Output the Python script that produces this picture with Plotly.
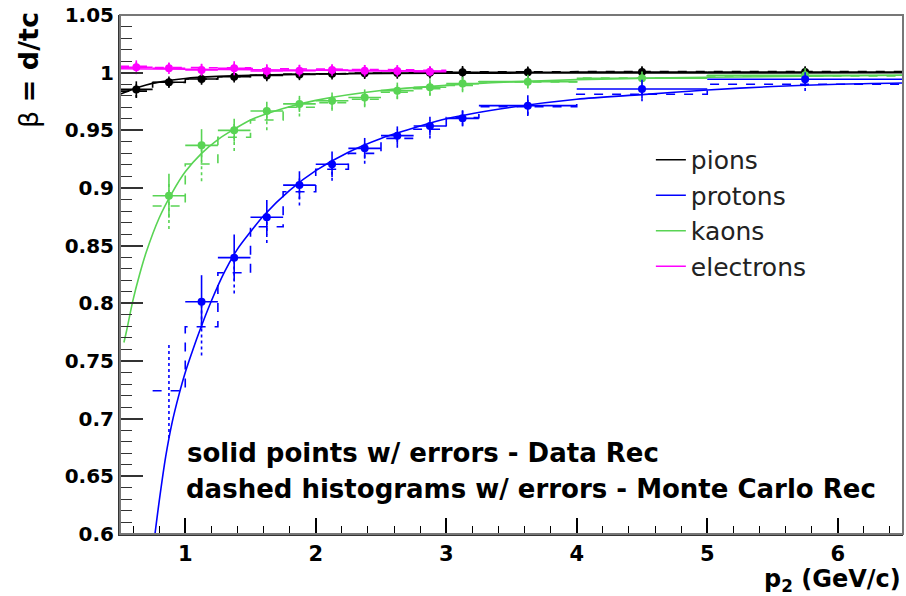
import plotly.graph_objects as go

# ---------------- data ----------------
bin_edges = [0.5, 0.75, 1.0, 1.25, 1.5, 1.75, 2.0, 2.25, 2.5, 2.75, 3.0, 3.25, 4.0, 5.0, 6.5]

# pions (all 14 bins)
pion_first_bin = 0
pion_data = [0.9855, 0.9917, 0.9945, 0.9965, 0.9976, 0.9985, 0.9991, 0.9995, 0.9997, 0.9999, 1.0003, 1.0004, 1.0005, 1.0006]
pion_data_err = [0.007, 0.005, 0.005, 0.005, 0.005, 0.005, 0.005, 0.005, 0.005, 0.005, 0.0055, 0.005, 0.005, 0.005]
pion_mc = [0.9840, 0.9915, 0.9945, 0.9965, 0.9977, 0.9986, 0.9992, 0.9996, 0.9998, 1.0000, 1.0008, 1.0010, 1.0010, 1.0010]
pion_mc_err = [0.006, 0.004, 0.004, 0.004, 0.004, 0.004, 0.004, 0.004, 0.004, 0.004, 0.004, 0.004, 0.004, 0.004]
pion_fit_p = [0.5, 0.6, 0.7, 0.8, 1.0, 1.25, 1.5, 2.0, 3.0, 4.0, 6.5]
pion_fit_beta = [0.9813, 0.9857, 0.9893, 0.9918, 0.9950, 0.9968, 0.9978, 0.9988, 0.9995, 0.9997, 0.9999]

# electrons (first 10 bins)
elec_first_bin = 0
elec_data = [1.0047, 1.0038, 1.0023, 1.0038, 1.0015, 1.0017, 1.0023, 1.0017, 1.0015, 1.0009]
elec_data_err = [0.006, 0.005, 0.005, 0.006, 0.005, 0.005, 0.005, 0.005, 0.005, 0.004]
elec_mc = [1.0055, 1.0045, 1.0040, 1.0042, 1.0035, 1.0030, 1.0030, 1.0028, 1.0025, 1.0020]
elec_mc_err = [0.004, 0.004, 0.004, 0.004, 0.004, 0.004, 0.004, 0.004, 0.004, 0.004]
elec_fit_p = [0.5, 3.0]
elec_fit_beta = [1.0034, 1.0013]

# kaons (bins from 0.75)
kaon_first_bin = 1
kaon_data = [0.8933, 0.9370, 0.9500, 0.9668, 0.9729, 0.9757, 0.9785, 0.9844, 0.9873, 0.9905, 0.9922, 0.9951, 0.9978]
kaon_data_err = [0.019, 0.014, 0.010, 0.008, 0.007, 0.007, 0.007, 0.007, 0.007, 0.006, 0.006, 0.006, 0.006]
kaon_mc = [0.8844, 0.9208, 0.9440, 0.9590, 0.9700, 0.9740, 0.9770, 0.9830, 0.9860, 0.9890, 0.9920, 0.9953, 0.9972]
kaon_mc_err = [0.020, 0.015, 0.012, 0.009, 0.008, 0.007, 0.007, 0.006, 0.006, 0.006, 0.005, 0.005, 0.005]
kaon_fit_p = [0.53, 0.55, 0.6, 0.65, 0.7, 0.8, 0.9, 1.0, 1.125, 1.25, 1.375, 1.5, 1.75, 2.0, 2.5, 3.0, 3.5, 4.0, 5.0, 6.5]
kaon_fit_beta = [0.766, 0.776, 0.803, 0.825, 0.844, 0.874, 0.896, 0.914, 0.930, 0.942, 0.951, 0.959, 0.969, 0.976, 0.9845, 0.989, 0.992, 0.994, 0.996, 0.9977]

# protons (data from 1.0, MC from 0.75)
prot_first_bin = 2
prot_data = [0.8014, 0.8396, 0.8746, 0.9025, 0.9206, 0.9344, 0.9454, 0.9538, 0.9604, 0.9714, 0.9859, 0.9943]
prot_data_err = [0.023, 0.020, 0.015, 0.012, 0.011, 0.009, 0.008, 0.008, 0.007, 0.009, 0.008, 0.006]
prot_mc_first_bin = 1
prot_mc = [0.7242, 0.7797, 0.8265, 0.8664, 0.8968, 0.9162, 0.9300, 0.9430, 0.9510, 0.9610, 0.9705, 0.9813, 0.9900]
prot_mc_err = [0.041, 0.025, 0.018, 0.014, 0.012, 0.010, 0.009, 0.008, 0.008, 0.007, 0.007, 0.006, 0.006]
prot_fit_p = [0.768, 0.8, 0.85, 0.9, 0.95, 1.0, 1.05, 1.1, 1.2, 1.3, 1.4, 1.5, 1.6, 1.8, 2.0, 2.25, 2.5, 2.75, 3.0, 3.5, 4.0, 4.5, 5.0, 5.5, 6.0, 6.5]
prot_fit_beta = [0.600, 0.628, 0.667, 0.697, 0.720, 0.740, 0.757, 0.773, 0.802, 0.827, 0.847, 0.862, 0.876, 0.898, 0.915, 0.931, 0.943, 0.952, 0.960, 0.970, 0.977, 0.981, 0.985, 0.988, 0.990, 0.991]

legend_names = ["pions", "protons", "kaons", "electrons"]
y_tick_vals = [0.6, 0.65, 0.7, 0.75, 0.8, 0.85, 0.9, 0.95, 1.0, 1.05]
y_tick_text = ["0.6", "0.65", "0.7", "0.75", "0.8", "0.85", "0.9", "0.95", "1", "1.05"]
x_tick_vals = [1, 2, 3, 4, 5, 6]

# ---------------- styling ----------------
COL = {"pions": "#000000", "protons": "#0000ff", "kaons": "#59d454", "electrons": "#ff00ff"}
FONT = "DejaVu Sans"

fig = go.Figure()


def bins_for(first, n):
    lo = bin_edges[first:first + n]
    hi = bin_edges[first + 1:first + n + 1]
    c = [(a + b) / 2 for a, b in zip(lo, hi)]
    hw = [(b - a) / 2 for a, b in zip(lo, hi)]
    return lo, hi, c, hw


def add_mc(first, vals, errs, color):
    lo, hi, c, hw = bins_for(first, len(vals))
    xs, ys = [], []
    for a, b, v in zip(lo, hi, vals):
        xs += [a, b]
        ys += [v, v]
    fig.add_trace(go.Scatter(x=xs, y=ys, mode="lines", showlegend=False, hoverinfo="skip",
                             line=dict(color=color, width=1.6, dash="dash")))
    ex, ey = [], []
    for cc, v, e in zip(c, vals, errs):
        ex += [cc, cc, None]
        ey += [v - e, v + e, None]
    fig.add_trace(go.Scatter(x=ex, y=ey, mode="lines", showlegend=False, hoverinfo="skip",
                             line=dict(color=color, width=1.6, dash="dot")))


def add_data(first, vals, errs, color):
    lo, hi, c, hw = bins_for(first, len(vals))
    fig.add_trace(go.Scatter(
        x=c, y=vals, mode="markers", showlegend=False,
        marker=dict(color=color, size=8, symbol="circle"),
        error_x=dict(type="data", array=hw, visible=True, color=color, thickness=1.6, width=0),
        error_y=dict(type="data", array=errs, visible=True, color=color, thickness=1.6, width=0),
    ))


def add_fit(p, b, color, name):
    fig.add_trace(go.Scatter(x=p, y=b, mode="lines", name=name, legendgroup=name,
                             line=dict(color=color, width=1.6, shape="spline", smoothing=0.8)))


add_mc(pion_first_bin, pion_mc, pion_mc_err, COL["pions"])
add_mc(kaon_first_bin, kaon_mc, kaon_mc_err, COL["kaons"])
add_mc(prot_mc_first_bin, prot_mc, prot_mc_err, COL["protons"])
add_mc(elec_first_bin, elec_mc, elec_mc_err, COL["electrons"])

add_fit(pion_fit_p, pion_fit_beta, COL["pions"], legend_names[0])
add_fit(prot_fit_p, prot_fit_beta, COL["protons"], legend_names[1])
add_fit(kaon_fit_p, kaon_fit_beta, COL["kaons"], legend_names[2])
add_fit(elec_fit_p, elec_fit_beta, COL["electrons"], legend_names[3])

add_data(pion_first_bin, pion_data, pion_data_err, COL["pions"])
add_data(kaon_first_bin, kaon_data, kaon_data_err, COL["kaons"])
add_data(prot_first_bin, prot_data, prot_data_err, COL["protons"])
add_data(elec_first_bin, elec_data, elec_data_err, COL["electrons"])

fig.update_layout(
    width=906, height=596,
    margin=dict(l=120, r=3, t=15, b=62),
    paper_bgcolor="white", plot_bgcolor="white",
    font=dict(family=FONT, color="black"),
    showlegend=True,
    legend=dict(x=0.678, y=0.765, xanchor="left", yanchor="top",
                bgcolor="rgba(0,0,0,0)", borderwidth=0,
                font=dict(family=FONT, size=25, color="#222"),
                traceorder="grouped", tracegroupgap=0, itemwidth=30),
    xaxis=dict(range=[0.5, 6.5], tickvals=x_tick_vals, ticks="inside", ticklen=16, tickwidth=1.5,
               tickcolor="black", showgrid=False, zeroline=False,
               showline=True, linecolor="#333", linewidth=2,
               tickfont=dict(family=FONT, size=21, weight="bold"),
               minor=dict(dtick=0.2, tick0=0, ticks="inside", ticklen=8, tickwidth=1.2,
                          tickcolor="black", showgrid=False)),
    yaxis=dict(range=[0.6, 1.05], tickvals=y_tick_vals, ticktext=y_tick_text, ticks="inside",
               ticklen=23, tickwidth=1.5, tickcolor="#333", showgrid=False, zeroline=False,
               showline=True, linecolor="#333", linewidth=2,
               tickfont=dict(family=FONT, size=20, weight="bold"),
               minor=dict(dtick=0.01, tick0=0, ticks="inside", ticklen=12, tickwidth=1.2,
                          tickcolor="#333", showgrid=False)),
    shapes=[dict(type="rect", xref="paper", yref="paper", x0=0, x1=1, y0=0, y1=1,
                 line=dict(color="#777", width=2), layer="above")],
    annotations=[
        dict(text="β <b>= d/tc</b>", xref="paper", yref="paper", x=0, y=1, xshift=-92, yshift=-55,
             xanchor="center", yanchor="middle", textangle=-90, showarrow=False,
             font=dict(family=FONT, size=27, color="black")),
        dict(text="<b>p<sub>2</sub> (GeV/c)</b>", xref="paper", yref="paper", x=1, y=0, yshift=-29,
             xanchor="right", yanchor="top", showarrow=False,
             font=dict(family=FONT, size=24, color="black")),
        dict(text="<b>solid points w/ errors - Data Rec</b>", xref="x", yref="y", x=1.0, y=0.670,
             xanchor="left", yanchor="middle", showarrow=False,
             font=dict(family=FONT, size=26, color="black")),
        dict(text="<b>dashed histograms w/ errors - Monte Carlo Rec</b>", xref="x", yref="y", x=0.99, y=0.639,
             xanchor="left", yanchor="middle", showarrow=False,
             font=dict(family=FONT, size=26, color="black")),
    ],
)

fig.write_html("out.html")
